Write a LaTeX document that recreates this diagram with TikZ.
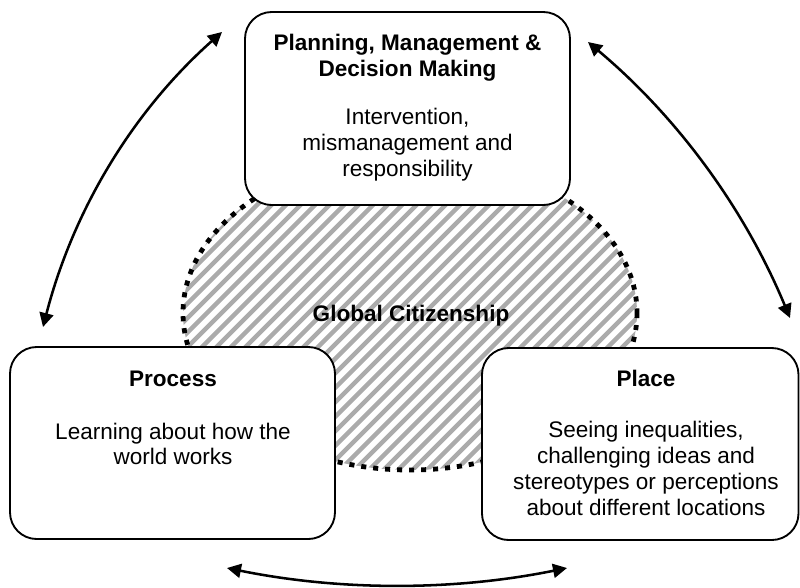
\documentclass[tikz,border=0pt]{standalone}
\usepackage{fontspec}
\setmainfont{Liberation Sans}
\usetikzlibrary{arrows.meta}
\begin{document}
\begin{tikzpicture}[x=0.75pt,y=-0.75pt,
  box/.style={draw=black, line width=1.4pt, rounded corners=20pt, fill=white, inner sep=0pt},
  txt/.style={align=center, inner sep=0pt, font=\fontsize{16.9}{19.4}\selectfont},
  ttl/.style={align=center, inner sep=0pt, font=\fontsize{16.9}{19.4}\selectfont\bfseries},
  link/.style={line width=1.9pt, {Triangle[length=10.5pt,width=10.5pt]}-{Triangle[length=10.5pt,width=10.5pt]}},
  hatch/.style={line width=3.3pt, draw=black!33},
  dotline/.style={line width=3.6pt, dash pattern=on 3.8pt off 5.2pt}]
\useasboundingbox (0,0) rectangle (800,587);

% connectors
\coordinate (l1) at (43,327);  \coordinate (l2) at (222,32);
\coordinate (r1) at (588,42);  \coordinate (r2) at (790,318);
\coordinate (b1) at (227,568); \coordinate (b2) at (567,568);
\draw[link] (l1) .. controls (73,211) and (132,112) .. (l2);
\draw[link] (r1) .. controls (678,117.5) and (745,209.5) .. (r2);
\draw[link] (b1) .. controls (340,591) and (454,591) .. (b2);

% global citizenship area
\begin{scope}
  \clip (410,313) ellipse [x radius=227, y radius=157];
  \foreach \k in {-28,...,28} \draw[hatch] ({410+\k*14.5-200},513) -- ++(400,-400);
\end{scope}
\draw[dotline] (410,313) ellipse [x radius=227, y radius=157];

% boxes
\node[box, minimum width=243.75pt, minimum height=144.75pt] (top) at (407.5,108.5) {};
\node[box, minimum width=243.75pt, minimum height=144pt] (proc) at (172.5,443) {};
\node[box, minimum width=237.4pt, minimum height=144pt] (place) at (640.25,444) {};

% texts
\node[ttl] (toptitle) at (407.5,57.5) {Planning, Management \&\\Decision Making};
\node[txt] (topdesc) at (407.5,144.7) {Intervention,\\mismanagement and\\responsibility};
\node[ttl, anchor=base] (proctitle) at (173,386) {Process};
\node[txt] (procdesc) at (173,444) {Learning about how the\\world works};
\node[ttl, anchor=base] (placetitle) at (646,386.5) {Place};
\node[txt] (placedesc) at (646,468.5) {Seeing inequalities,\\challenging ideas and\\stereotypes or perceptions\\about different locations};
\node[ttl, anchor=base] (gc) at (411,321) {Global Citizenship};
\end{tikzpicture}
\end{document}
